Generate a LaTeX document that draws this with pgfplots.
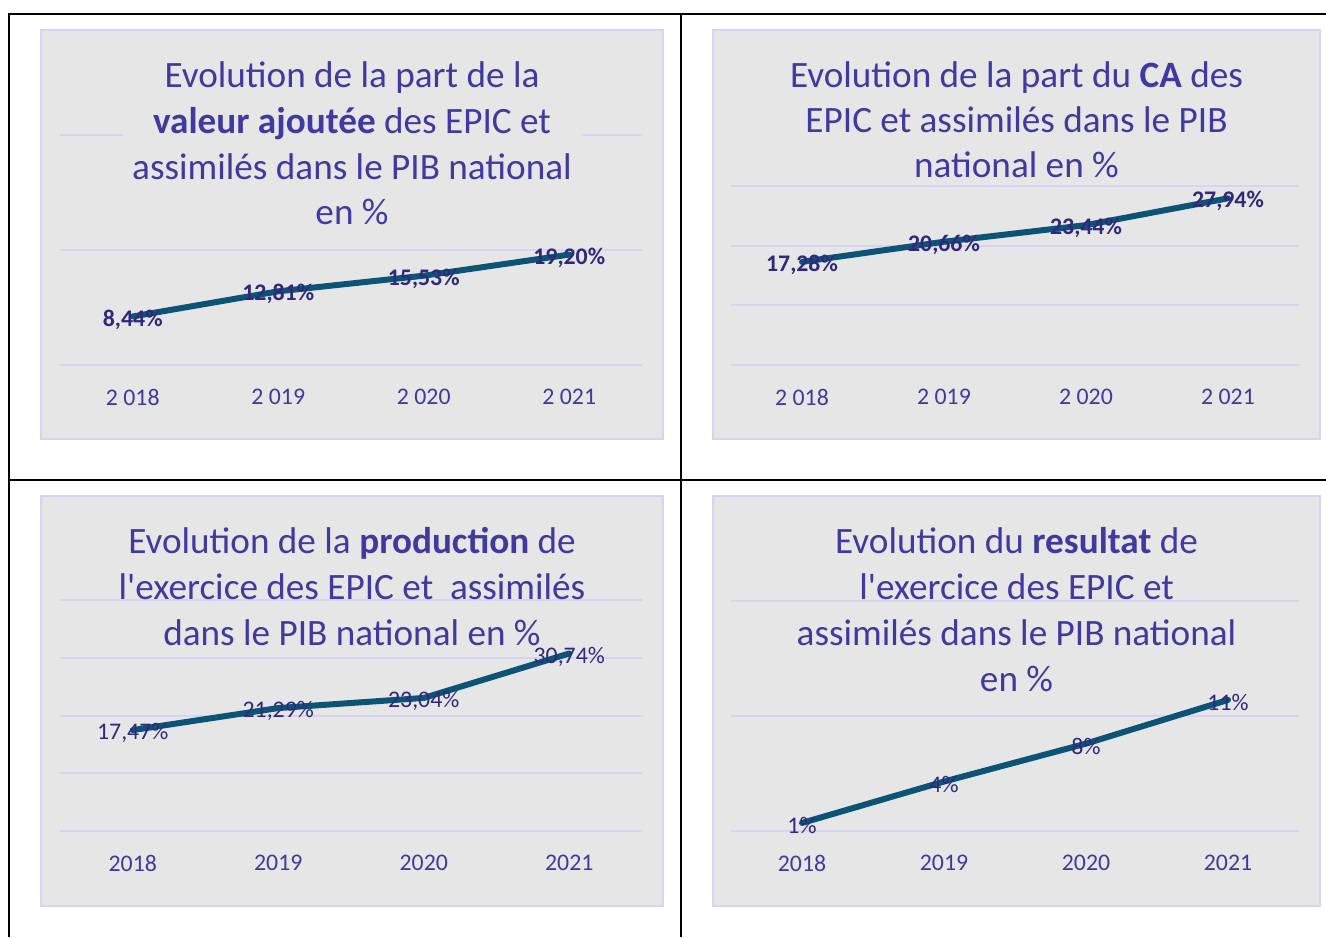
\documentclass[border=0pt]{standalone}
\usepackage{pgfplots}
\pgfplotsset{compat=1.18}
\usepackage{fontspec}
\setmainfont{Carlito}

\definecolor{panelfill}{RGB}{230,230,230}
\definecolor{panelline}{RGB}{216,211,244}
\definecolor{gridc}{RGB}{216,211,242}
\definecolor{titlec}{RGB}{64,57,160}
\definecolor{labelc}{RGB}{48,40,124}
\definecolor{linec}{RGB}{12,84,118}

\newcommand\lbl{\fontsize{11.9}{14}\selectfont}
\newcommand\ttl{\fontsize{18.6}{23}\selectfont}

\pgfplotsset{
  epic/.style={
    scale only axis, anchor=south west, clip=false,
    xmin=-0.5, xmax=3.5, xtick={0,1,2,3},
    ymin=0,
    axis line style={draw=none},
    major tick length=0pt,
    ymajorgrids, grid style={draw=gridc, line width=1pt},
    yticklabels={},
    xticklabel style={anchor=center, yshift=-16pt, text=titlec, font=\lbl},
    nodes near coords, point meta=explicit symbolic,
    every node near coord/.append style={anchor=center, yshift=-1.5pt, text=labelc, inner sep=0pt},
  },
  epicline/.style={draw=linec, line width=3pt, line cap=round, line join=round, mark=none},
}

\begin{document}
\begin{tikzpicture}
\useasboundingbox (0,0) rectangle (663pt,468.5pt);

% table rules
\draw[line width=1pt] (4.5pt,0) -- (4.5pt,461.5pt) -- (663pt,461.5pt);
\draw[line width=1pt] (340.5pt,0) -- (340.5pt,461.5pt);
\draw[line width=1pt] (4.5pt,228.5pt) -- (663pt,228.5pt);

% chart panels
\filldraw[fill=panelfill, draw=panelline, line width=1pt] (20.5pt,249pt) rectangle (331.5pt,453.5pt);
\filldraw[fill=panelfill, draw=panelline, line width=1pt] (356.5pt,249pt) rectangle (660pt,453.5pt);
\filldraw[fill=panelfill, draw=panelline, line width=1pt] (20.5pt,15.5pt) rectangle (331.5pt,220.5pt);
\filldraw[fill=panelfill, draw=panelline, line width=1pt] (356.5pt,15.5pt) rectangle (660pt,220.5pt);

% valeur ajoutee
\begin{axis}[epic, at={(30pt,286pt)}, width=291pt, height=115pt,
  ymax=40, ytick={0,20,40},
  xticklabels={2 018,2 019,2 020,2 021},
  every node near coord/.append style={font=\lbl\bfseries}]
\addplot[epicline] coordinates {(0,8.44) [8,44\%] (1,12.81) [12,81\%] (2,15.53) [15,53\%] (3,19.20) [19,20\%]};
\end{axis}

% CA
\begin{axis}[epic, at={(365.5pt,286pt)}, width=284pt, height=89.5pt,
  ymax=30, ytick={0,10,20,30},
  xticklabels={2 018,2 019,2 020,2 021},
  every node near coord/.append style={font=\lbl\bfseries}]
\addplot[epicline] coordinates {(0,17.28) [17,28\%] (1,20.66) [20,66\%] (2,23.44) [23,44\%] (3,27.94) [27,94\%]};
\end{axis}

% production
\begin{axis}[epic, at={(30pt,53pt)}, width=291pt, height=115.5pt,
  ymax=40, ytick={0,10,20,30,40},
  xticklabels={2018,2019,2020,2021},
  every node near coord/.append style={font=\lbl}]
\addplot[epicline] coordinates {(0,17.47) [17,47\%] (1,21.29) [21,29\%] (2,23.04) [23,04\%] (3,30.74) [30,74\%]};
\end{axis}

% resultat
\begin{axis}[epic, at={(365.5pt,53pt)}, width=284pt, height=115pt,
  ymax=20, ytick={0,10,20},
  xticklabels={2018,2019,2020,2021},
  every node near coord/.append style={font=\lbl}]
\addplot[epicline] coordinates {(0,0.7) [1\%] (1,4.3) [4\%] (2,7.6) [8\%] (3,11.4) [11\%]};
\end{axis}

% title box of the first chart hides its top grid line
\fill[panelfill] (61.5pt,352pt) rectangle (291pt,446pt);

% titles
\begin{scope}[every node/.style={anchor=base, text=titlec, font=\ttl, inner sep=0pt}]
\node at (176pt,424.5pt) {Evolution de la part de la};
\node at (176pt,401.5pt) {\textbf{valeur ajoutée} des EPIC et};
\node at (176pt,378.5pt) {assimilés dans le PIB national};
\node at (176pt,356pt) {en \%};

\node at (508.25pt,424.5pt) {Evolution de la part du \textbf{CA} des};
\node at (508.25pt,402pt) {EPIC et assimilés dans le PIB};
\node at (508.25pt,379.5pt) {national en \%};

\node at (176pt,191.5pt) {Evolution de la \textbf{production} de};
\node at (176pt,168.5pt) {l\textquotesingle exercice des EPIC et\ \ assimilés};
\node at (176pt,146pt) {dans le PIB national en \%};

\node at (508.25pt,191.5pt) {Evolution du \textbf{resultat} de};
\node at (508.25pt,168.5pt) {l\textquotesingle exercice des EPIC et};
\node at (508.25pt,146pt) {assimilés dans le PIB national};
\node at (508.25pt,123pt) {en \%};
\end{scope}
\end{tikzpicture}
\end{document}
